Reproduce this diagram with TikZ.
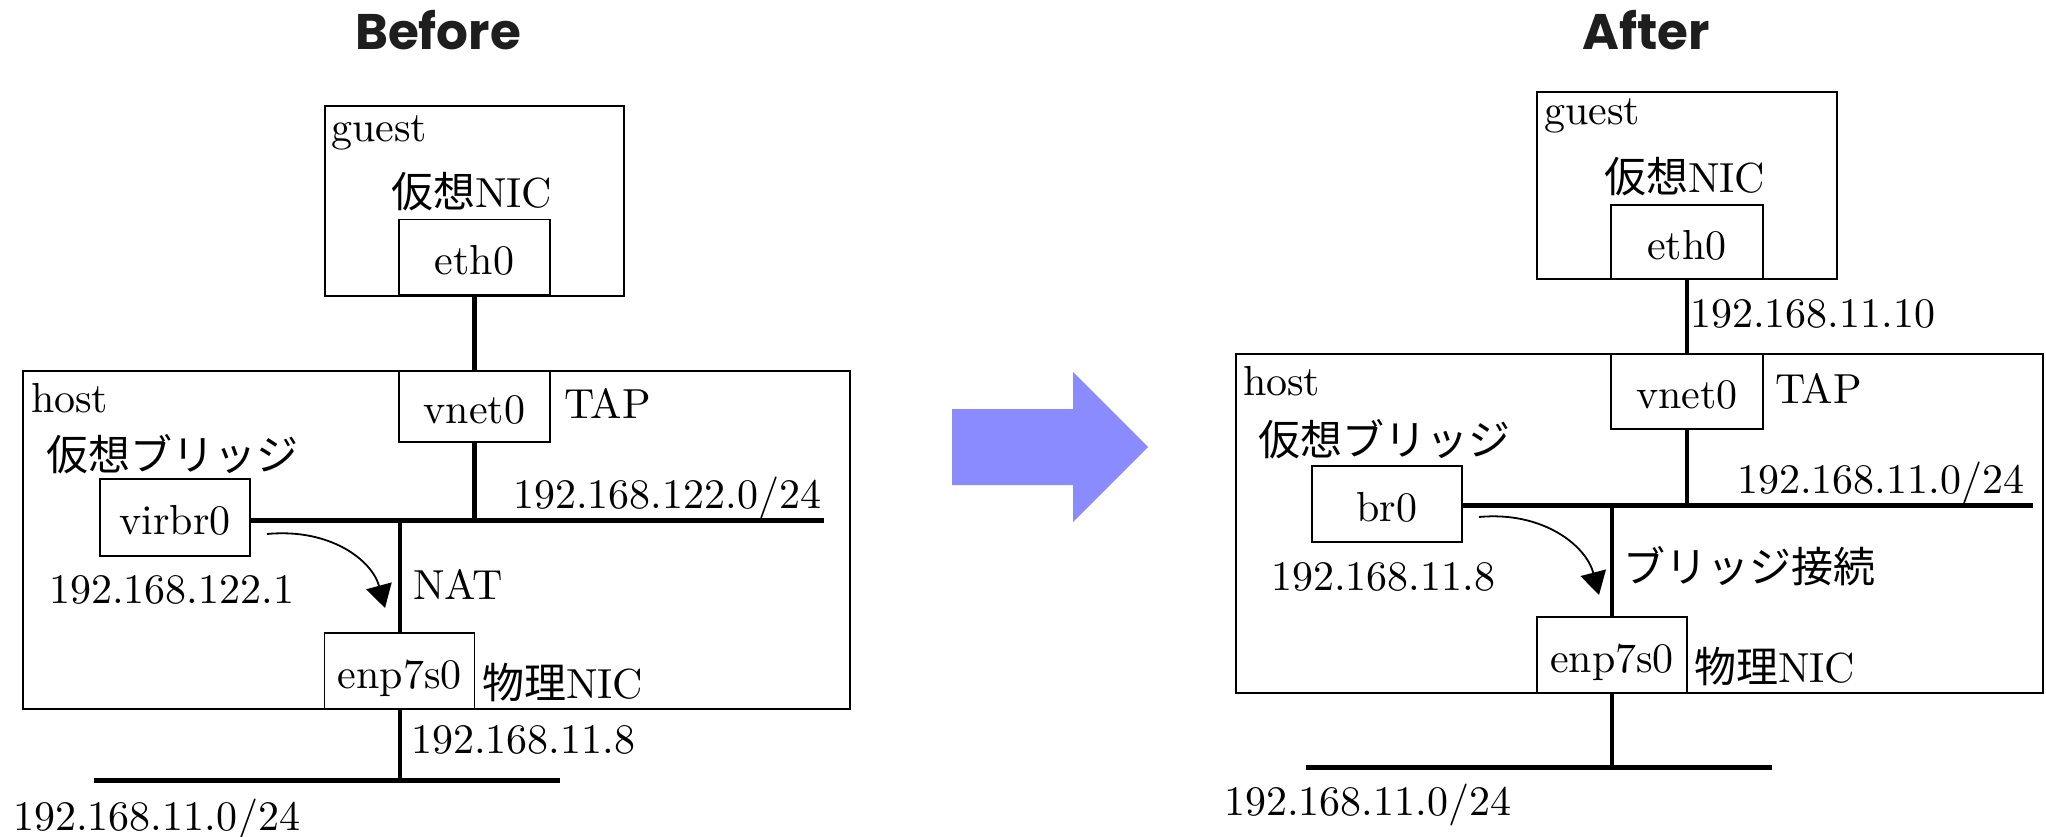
\documentclass[tikz,border=0pt]{standalone}
\usepackage{fontspec}
\setmainfont{lmroman10-regular}[Extension=.otf]
\newfontfamily\cjk{Noto Sans CJK JP}
\newfontfamily\titlefont{Poppins}
\usetikzlibrary{arrows.meta}
\definecolor{arrowblue}{RGB}{138,139,255}
\definecolor{titlegray}{RGB}{30,30,30}
\begin{document}
\begin{tikzpicture}[x=1pt,y=-1pt,
  every node/.style={inner sep=0pt, outer sep=0pt, font=\fontsize{42}{50}\selectfont},
  frame/.style={draw, line width=1.3pt, rectangle},
  ifbox/.style={draw, line width=1.3pt, rectangle, minimum width=151pt, minimum height=75pt, text height=34pt, text depth=0pt},
  net/.style={line width=5pt},
  link/.style={line width=4.2pt},
  lbl/.style={anchor=base west},
  title/.style={anchor=base, font=\titlefont\bfseries\fontsize{50}{60}\selectfont, text=titlegray},
  flow/.style={line width=1.8pt, -{Triangle[length=23pt,width=26pt]}}
]
\useasboundingbox (0,0) rectangle (2046,836);

% titles
\node[title] (tb) at (438,49) {Before};
\node[title] (ta) at (1646,49) {After};

% big arrow
\fill[arrowblue] (952,409) -- (1073,409) -- (1073,372) -- (1148,447) -- (1073,522) -- (1073,485) -- (952,485) -- cycle;

% ================= BEFORE =================
\node[frame, minimum width=299pt, minimum height=190pt] (guestL) at (474.5,201) {};
\node[frame, minimum width=827pt, minimum height=338pt] (hostL) at (436.5,540) {};
\node[ifbox] (eth0L) at (474.5,257) {eth0};
\node[ifbox, minimum height=71pt] (vnet0L) at (474.5,406.5) {vnet0};
\node[ifbox, minimum width=150pt, minimum height=77pt] (virbr0) at (175,517.5) {virbr0};
\node[ifbox, minimum width=150pt, minimum height=76pt] (enpL) at (399.75,671) {enp7s0};

\node[lbl] (guestLt) at (331,141) {guest};
\node[lbl] (vnicL) at (391,207) {{\cjk 仮想}NIC};
\node[lbl] (hostLt) at (31,412) {host};
\node[lbl] (tapL) at (564,418) {TAP};
\node[lbl] (vbrL) at (46,470) {\cjk 仮想ブリッジ};
\node[lbl] (netL) at (513,508) {192.168.122.0/24};
\node[lbl] (ipbrL) at (49,603) {192.168.122.1};
\node[lbl] (natL) at (413,599) {NAT};
\node[lbl] (pnicL) at (482,698) {{\cjk 物理}NIC};
\node[lbl] (iphL) at (411,753) {192.168.11.8};
\node[lbl] (lanL) at (13,830) {192.168.11.0/24};

\coordinate (brLend) at (824,520);
\coordinate (botLa) at (94,780.7);
\coordinate (botLb) at (559.5,780.7);
\draw[link] (eth0L.south) -- (vnet0L.north);
\draw[link] (vnet0L.south) -- (vnet0L.south |- brLend);
\draw[net] (virbr0.east |- brLend) -- (brLend);
\draw[link] (enpL.north |- brLend) -- (enpL.north);
\draw[link] (enpL.south) -- (enpL.south |- botLa);
\draw[net] (botLa) -- (botLb);
\coordinate (natS) at (267,534);
\coordinate (natE) at (385,608);
\draw[flow] (natS) .. controls (330,528) and (372,560) .. (natE);

% ================= AFTER =================
\node[frame, minimum width=300pt, minimum height=187pt] (guestR) at (1687,185.5) {};
\node[frame, minimum width=807pt, minimum height=339pt] (hostR) at (1639.5,523.5) {};
\node[ifbox, minimum width=152pt, minimum height=74pt] (eth0R) at (1687,242) {eth0};
\node[ifbox, minimum width=152pt] (vnet0R) at (1687,391.5) {vnet0};
\node[ifbox, minimum width=150pt, minimum height=76pt] (br0) at (1387,504) {br0};
\node[ifbox, minimum width=150pt, minimum height=76pt] (enpR) at (1612,655) {enp7s0};

\node[lbl] (guestRt) at (1544,124) {guest};
\node[lbl] (vnicR) at (1604,192) {{\cjk 仮想}NIC};
\node[lbl] (ipgR) at (1690,327) {192.168.11.10};
\node[lbl] (hostRt) at (1243,395) {host};
\node[lbl] (tapR) at (1775,403) {TAP};
\node[lbl] (vbrR) at (1258,455) {\cjk 仮想ブリッジ};
\node[lbl] (netR) at (1737,493) {192.168.11.0/24};
\node[lbl] (ipbrR) at (1271,590) {192.168.11.8};
\node[lbl] (bcR) at (1623,582) {\cjk ブリッジ接続};
\node[lbl] (pnicR) at (1694,682) {{\cjk 物理}NIC};
\node[lbl] (lanR) at (1224,815) {192.168.11.0/24};

\coordinate (brRend) at (2033,505);
\coordinate (botRa) at (1306,767);
\coordinate (botRb) at (1772,767);
\draw[link] (eth0R.south) -- (vnet0R.north);
\draw[link] (vnet0R.south) -- (vnet0R.south |- brRend);
\draw[net] (br0.east |- brRend) -- (brRend);
\draw[link] (enpR.north |- brRend) -- (enpR.north);
\draw[link] (enpR.south) -- (enpR.south |- botRa);
\draw[net] (botRa) -- (botRb);
\coordinate (bcS) at (1479,517);
\coordinate (bcE) at (1599,595);
\draw[flow] (bcS) .. controls (1542,511) and (1586,545) .. (bcE);
\end{tikzpicture}
\end{document}
